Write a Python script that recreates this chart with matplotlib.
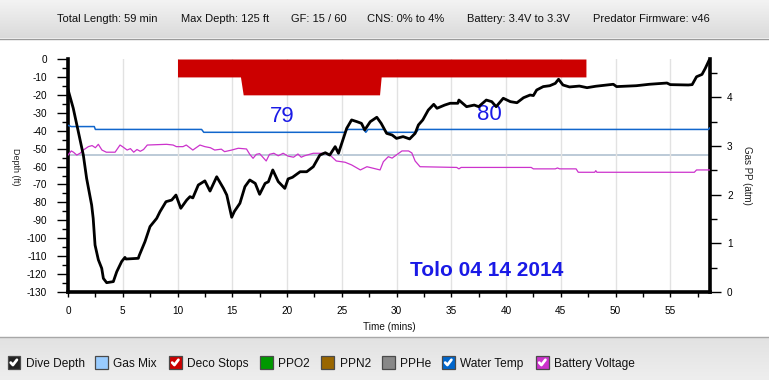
import numpy as np
import matplotlib
matplotlib.use("Agg")
import matplotlib.pyplot as plt
from matplotlib.lines import Line2D
from matplotlib.patches import FancyBboxPatch

plt.rcParams['font.family'] = ['Liberation Sans', 'DejaVu Sans']
plt.rcParams['axes.unicode_minus'] = False

# ---------------- data ----------------
depth_t = [0, 0.48, 0.94, 1.4, 1.7, 2.16, 2.3, 2.47, 2.77, 3.08,
           3.23, 3.53, 4.14, 4.45, 4.9, 5.2, 5.3, 6.42, 6.5, 7.03,
           7.49, 8.1, 8.4, 8.95, 9.47, 9.86, 10.3, 10.84, 11.14, 11.4,
           11.9, 12.5, 12.97, 13.58, 14.2, 14.5, 14.95, 15.2, 15.7, 16.16,
           16.6, 17.1, 17.5, 18.0, 18.3, 18.7, 19.2, 19.8, 20.1, 20.5,
           21.2, 21.8, 22.4, 23.0, 23.5, 23.9, 24.4, 24.7, 25.1, 25.45,
           25.9, 26.4, 26.8, 27.1, 27.6, 28.2, 28.6, 29.1, 29.6, 30.0,
           30.6, 31.2, 31.7, 32.0, 32.4, 32.9, 33.4, 33.7, 34.4, 34.9,
           35.6, 35.7, 36.0, 36.4, 37.1, 37.5, 38.2, 38.7, 39.1, 39.75,
           40.4, 41.0, 41.6, 42.2, 42.5, 42.8, 43.4, 44.0, 44.5, 44.8,
           45.2, 45.8, 46.7, 47.4, 48.2, 49.8, 50.1, 51.9, 53.1, 54.7,
           55.0, 56.65, 57.0, 57.4, 57.9, 58.2, 58.6]
depth_ft = [-17, -27.5, -40.5, -53.6, -66.6, -81.5, -88.9, -103.8, -112, -116.8,
            -122.4, -124.8, -124.2, -118.7, -113, -110.7, -111.6, -111.2, -109.7, -101.9,
            -93.5, -88.9, -85.2, -79.6, -78.7, -75.9, -83.3, -78.7, -76.8, -77.5,
            -70.3, -68, -73.7, -65.7, -72.2, -75.9, -88.3, -85, -80.5, -71.2,
            -67.5, -69.4, -75.5, -69.4, -68.5, -61.9, -68.4, -72.2, -66.9, -66,
            -62.9, -62.9, -60.1, -53.6, -52.3, -53.6, -48.9, -52.6, -45.2, -38.7,
            -34, -35, -35.9, -39.6, -35, -32.5, -35.9, -41.5, -42.4, -44.3,
            -43.3, -44.6, -41.5, -36.8, -34, -28.5, -25.3, -27.5, -25.7, -24.7,
            -24.7, -22.9, -24.5, -26.6, -25.7, -26.6, -22.9, -23.8, -26.6, -21.9,
            -23.8, -24.4, -21.6, -20.1, -20.4, -17.3, -15.4, -14.9, -13.6, -11.3,
            -14.5, -15.6, -15.1, -16, -15.2, -14.1, -15.4, -14.9, -14.1, -13.4,
            -14.3, -14.5, -14.3, -9.9, -8.6, -5.2, 0]

deco_t = [10, 15.75, 16.0, 28.45, 28.6, 47.3]
deco_ceiling_ft = [10, 10, 20, 20, 10, 10]

temp_t = [0, 0.3, 2.4, 2.5, 12.2, 12.4, 25.3, 25.5, 27.0, 27.2,
          27.4, 28.9, 29.1, 31.8, 32.0, 58.5, 58.6]
temp_plot = [-37, -37.7, -37.7, -39.3, -39.3, -40.9, -40.9, -39.3, -39.3, -40.9,
             -39.3, -39.3, -40.9, -40.9, -39.3, -39.3, -38.5]

setpoint_t = [0, 58.6]
setpoint_atm = [2.81, 2.81]

bat_t = [0, 0.3, 0.5, 0.8, 1.1, 1.4, 1.86, 2.2, 2.5, 2.77,
         3.1, 3.5, 4.3, 4.75, 5.0, 5.4, 5.7, 6.0, 6.3, 6.6,
         6.9, 7.24, 9.0, 9.6, 9.9, 10.5, 10.8, 11.4, 12.05, 12.5,
         13.0, 13.4, 14.0, 14.3, 14.95, 15.55, 16.3, 16.6, 16.9, 17.2,
         17.5, 18.1, 18.4, 18.8, 19.2, 19.65, 20.1, 20.6, 21.0, 21.3,
         21.6, 22.4, 23.4, 24.0, 24.5, 25.3, 25.9, 26.7, 27.3, 27.9,
         28.5, 28.8, 29.25, 29.6, 30.0, 30.5, 31.1, 31.4, 31.7, 32.15,
         35.5, 35.7, 35.9, 42.3, 42.5, 44.5, 44.7, 44.9, 46.4, 46.6,
         48.1, 48.2, 48.3, 57.2, 57.4, 58.6]
bat_plot = [-53.6, -51.3, -52, -53.6, -52.6, -50.8, -48.9, -48.3, -49.5, -47.6,
            -50.8, -52, -52, -48, -49, -50.8, -50, -52, -50.5, -51.5,
            -50.5, -48, -47.6, -48, -48.9, -48.9, -48, -50.8, -48, -48.9,
            -49.5, -50.8, -50.3, -51.7, -50.8, -49.8, -50.2, -53.2, -55.4, -53.2,
            -52.8, -56.9, -53.2, -52.6, -54, -52.6, -54.2, -54.8, -53, -54.8,
            -54, -52.6, -52.6, -54, -56.9, -57.6, -59.1, -61.9, -60.1, -61,
            -61.9, -57.3, -54.5, -55.3, -53.5, -51.3, -51.3, -52.4, -56.9, -60.1,
            -60.5, -61.3, -60.5, -60.5, -61.3, -61.3, -60.8, -61.3, -61.3, -63.2,
            -63.2, -62.3, -63.2, -63.2, -61.9, -61.9]

header_items = ["Total Length: 59 min", "Max Depth: 125 ft", "GF: 15 / 60",
                "CNS: 0% to 4%", "Battery: 3.4V to 3.3V", "Predator Firmware: v46"]
legend_labels = ["Dive Depth", "Gas Mix", "Deco Stops", "PPO2", "PPN2", "PPHe",
                 "Water Temp", "Battery Voltage"]
legend_colors = ["#222222", "#99ccff", "#cc0000", "#009900", "#996600", "#888888",
                 "#0066cc", "#cc33cc"]
legend_checked = [True, False, True, False, False, False, True, True]
temp_labels = ["79", "80"]
title_text = "Tolo 04 14 2014"

# ---------------- figure ----------------
W, H = 769, 380
PT = 72 / 100  # points per pixel
fig = plt.figure(figsize=(W / 100, H / 100), dpi=100)
fig.patch.set_facecolor("white")

def fx(x):
    return x / W

def fy(y):
    return 1 - y / H

grad = np.linspace(0, 1, 50).reshape(-1, 1)

# header band
hax = fig.add_axes([0, fy(38), 1, 38 / H])
hax.imshow(grad, aspect="auto", cmap=matplotlib.colors.LinearSegmentedColormap.from_list(
    "h", ["#f3f3f3", "#dadada"]), extent=[0, 1, 0, 1], origin="upper")
hax.axis("off")
fig.add_artist(Line2D([0, 1], [fy(38.5)] * 2, color="#9a9a9a", lw=1))
header_x = [57, 181, 291, 367, 467, 593]
for xs, s in zip(header_x, header_items):
    fig.text(fx(xs), fy(18.5), s, fontsize=8, va="center", ha="left", color="#111111")

# legend band
lax = fig.add_axes([0, 0, 1, 43 / H])
lax.imshow(grad, aspect="auto", cmap=matplotlib.colors.LinearSegmentedColormap.from_list(
    "l", ["#e2e2e2", "#eeeeee"]), extent=[0, 1, 0, 1], origin="upper")
lax.axis("off")
fig.add_artist(Line2D([0, 1], [fy(337)] * 2, color="#a8a8a8", lw=1))
box_x = [7.5, 95, 169, 260, 321, 382, 442, 536]
text_x = [25.5, 113, 187, 278, 340, 400, 460, 554]
cy = 362.4
bs = 12.5
for bx, tx, lab, col, chk in zip(box_x, text_x, legend_labels, legend_colors, legend_checked):
    fig.add_artist(FancyBboxPatch((fx(bx), fy(cy + bs / 2)), bs / W, bs / H,
                                  boxstyle="square,pad=0",
                                  facecolor=col, edgecolor="#4a4a4a", lw=0.9,
                                  transform=fig.transFigure))
    if chk:
        fig.add_artist(Line2D([fx(bx + 3.2), fx(bx + 5.4), fx(bx + 9.4)],
                              [fy(cy + 0.2), fy(cy + 2.6), fy(cy - 2.6)],
                              color="white", lw=2.0, transform=fig.transFigure,
                              solid_capstyle="round", solid_joinstyle="round"))
    fig.text(fx(tx), fy(cy + 0.5), lab, fontsize=8.6, va="center_baseline", ha="left",
             color="#111111")

# main axes
ax = fig.add_axes([fx(68), fy(292), (710 - 68) / W, (292 - 59) / H])
ax.set_xlim(0, 58.63)
ax.set_ylim(-130, 0)

ax.set_xticks(np.arange(0, 56, 5))
ax.set_xticks(np.arange(0, 58.6, 2.5), minor=True)
ax.set_yticks(np.arange(-130, 1, 10))
ax.set_yticks(np.arange(-130, 1, 5), minor=True)
ax.grid(axis="x", which="major", color="#e2e2e2", lw=1)
ax.set_axisbelow(True)
ax.tick_params(axis="y", which="major", length=11 * PT, width=1, direction="out",
               labelsize=7.2, pad=10 * PT)
ax.tick_params(axis="y", which="minor", length=6 * PT, width=1, direction="out")
ax.tick_params(axis="x", which="both", length=5 * PT, width=1, direction="out",
               labelsize=7.2, pad=9 * PT)
for s in ["left", "bottom"]:
    ax.spines[s].set_linewidth(2.6)
    ax.spines[s].set_color("black")
ax.spines["top"].set_visible(False)
ax.spines["right"].set_visible(False)

# deco stops
ax.fill_between(deco_t, 0, [-c for c in deco_ceiling_ft], color="#cc0000",
                lw=0, zorder=2)

# water temp, battery
ax.plot(temp_t, temp_plot, color="#1166cc", lw=1.1, zorder=3)
ax.plot(bat_t, bat_plot, color="#cc33cc", lw=0.9, zorder=3)

# depth
ax.plot(depth_t, depth_ft, color="black", lw=2.0, zorder=5, solid_joinstyle="round")

# annotations
ax.text(19.6, -32.2, temp_labels[0], color="#1a1ae6", fontsize=16, ha="center", va="center")
ax.text(38.5, -30.8, temp_labels[1], color="#1a1ae6", fontsize=16, ha="center", va="center")
ax.text(38.24, -118.2, title_text, color="#1a1ae6", fontsize=15, fontweight="bold",
        ha="center", va="center")

# right axis
ax2 = ax.twinx()
ax2.set_ylim(0, 4.787)
ax2.set_yticks([0, 1, 2, 3, 4])
ax2.set_yticks(np.arange(0, 4.6, 0.5), minor=True)
ax2.tick_params(axis="y", which="major", length=11 * PT, width=1, direction="out",
                labelsize=7.2, pad=6 * PT)
ax2.tick_params(axis="y", which="minor", length=7 * PT, width=1, direction="out")
ax2.plot(setpoint_t, setpoint_atm, color="#a9bccd", lw=1.1, zorder=1)
ax2.spines["right"].set_linewidth(2.6)
for s in ["left", "bottom", "top"]:
    ax2.spines[s].set_visible(False)
ax.set_zorder(ax2.get_zorder() + 1)
ax.patch.set_visible(False)
ax2.patch.set_facecolor("white")

fig.text(fx(15), fy(167), "Depth (ft)", rotation=-90, fontsize=6.5, ha="center",
         va="center", color="#222222")
fig.text(fx(747), fy(175), "Gas PP (atm)", rotation=-90, fontsize=7, ha="center",
         va="center", color="#222222")
fig.text(fx(389), fy(327.5), "Time (mins)", fontsize=7.2, ha="center", va="center",
         color="#111111")

fig.savefig("out.png", dpi=100)
